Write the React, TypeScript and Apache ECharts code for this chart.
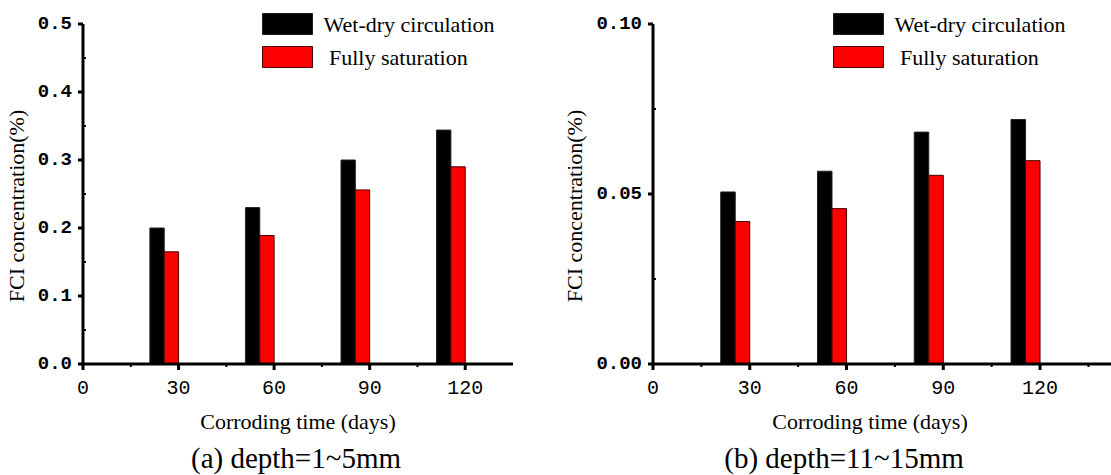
import React, { useEffect, useRef } from "react";
import * as echarts from "echarts";

// Corroding time (days) at which samples were taken
const days = [30, 60, 90, 120];
const xTicks = [0, 30, 60, 90, 120];

// FCI concentration (%) at depth 1~5mm
const wetDryShallow = [0.2, 0.23, 0.3, 0.344];
const saturatedShallow = [0.165, 0.189, 0.256, 0.29];
const yTicksShallow = [0, 0.1, 0.2, 0.3, 0.4, 0.5];

// FCI concentration (%) at depth 11~15mm
const wetDryDeep = [0.0506, 0.0567, 0.0682, 0.0719];
const saturatedDeep = [0.0419, 0.0457, 0.0555, 0.0598];
const yTicksDeep = [0, 0.05, 0.1];

const seriesNames = ["Wet-dry circulation", "Fully saturation"];
const captions = ["(a) depth=1~5mm", "(b) depth=11~15mm"];
const xName = "Corroding time (days)";
const yName = "FCI concentration(%)";

const BAR_W = 4.5; // bar width in days
const SERIF = "'Liberation Serif', 'Times New Roman', serif";
const MONO = "'Liberation Mono', 'DejaVu Sans Mono', monospace";

const styles = [
  { fill: "#000000", stroke: "#222222" },
  { fill: "#ff0000", stroke: "#4a0000" },
];

const panels = [
  { xMax: 135, yTicks: yTicksShallow, digits: 1, nameGap: 56 },
  { xMax: 142, yTicks: yTicksDeep, digits: 2, nameGap: 68 },
];

function barSeries(name: string, idx: number, values: number[], axisIndex: number) {
  const data = days.map((d, i) => [d, values[i]]);
  const shift = idx === 0 ? 2 * BAR_W : BAR_W;
  return {
    type: "custom",
    name,
    xAxisIndex: axisIndex,
    yAxisIndex: axisIndex,
    encode: { x: 0, y: 1 },
    itemStyle: { color: styles[idx].fill },
    data,
    renderItem: (_params: any, api: any) => {
      const x = api.value(0);
      const y = api.value(1);
      const p1 = api.coord([x - shift, y]);
      const p2 = api.coord([x - shift + BAR_W, 0]);
      return {
        type: "rect",
        shape: { x: p1[0], y: p1[1], width: p2[0] - p1[0], height: p2[1] - p1[1] },
        style: { fill: styles[idx].fill, stroke: styles[idx].stroke, lineWidth: 1 },
      };
    },
  };
}

function xAxisCfg(gridIndex: number, max: number) {
  return {
    type: "value",
    gridIndex,
    min: 0,
    max,
    interval: 30,
    name: xName,
    nameLocation: "middle",
    nameGap: 46,
    nameTextStyle: {
      fontFamily: SERIF,
      fontSize: 22,
      color: "#000",
      padding: gridIndex === 1 ? [0, 24, 0, 0] : [0, 0, 0, 0],
    },
    axisLine: { show: false },
    axisTick: { show: false },
    axisLabel: {
      fontFamily: MONO,
      fontSize: 20,
      color: "#000",
      margin: 14,
      showMaxLabel: false,
    },
    splitLine: { show: false },
  };
}

function yAxisCfg(gridIndex: number, ticks: number[], digits: number, nameGap: number) {
  return {
    type: "value",
    gridIndex,
    min: 0,
    max: ticks[ticks.length - 1],
    interval: ticks[1] - ticks[0],
    name: yName,
    nameLocation: "middle",
    nameGap,
    nameTextStyle: { fontFamily: SERIF, fontSize: 22, color: "#000", padding: [0, 0, 0, -24] },
    axisLine: { show: false },
    axisTick: { show: false },
    axisLabel: {
      fontFamily: MONO,
      fontWeight: "bold",
      fontSize: 19,
      color: "#000",
      margin: 11,
      padding: [10, 0, 0, 0],
      formatter: (v: number) => v.toFixed(digits),
    },
    splitLine: { show: false },
  };
}

function legendCfg(left: number) {
  return {
    left,
    top: 13,
    padding: 0,
    orient: "vertical",
    icon: "rect",
    itemWidth: 50,
    itemHeight: 21,
    itemGap: 11,
    textStyle: { fontFamily: SERIF, fontSize: 22, color: "#000", padding: [0, 0, 0, 6] },
    formatter: (n: string) => (n === seriesNames[1] ? " " + n : n),
    data: seriesNames.map((name, i) => ({
      name,
      itemStyle: { color: styles[i].fill, borderColor: styles[i].stroke, borderWidth: 1 },
    })),
  };
}

function line(x1: number, y1: number, x2: number, y2: number, w: number) {
  return {
    type: "line",
    z: 10,
    silent: true,
    shape: { x1, y1, x2, y2 },
    style: { stroke: "#000", lineWidth: w },
  };
}

export default function App() {
  const ref = useRef<HTMLDivElement>(null);

  useEffect(() => {
    if (!ref.current) return;
    const chart = echarts.init(ref.current, undefined, { renderer: "svg" });
    chart.setOption({
      animation: false,
      backgroundColor: "#ffffff",
      title: captions.map((text, i) => ({
        text,
        left: i === 0 ? 296 : 844,
        top: 443,
        padding: 0,
        textAlign: "center",
        textStyle: { fontFamily: SERIF, fontSize: 29, fontWeight: "normal", color: "#000" },
      })),
      legend: [legendCfg(262), legendCfg(833)],
      grid: [
        { left: 83, top: 24, width: 430, height: 340 },
        { left: 653, top: 24, width: 458, height: 340 },
      ],
      xAxis: panels.map((p, i) => xAxisCfg(i, p.xMax)),
      yAxis: panels.map((p, i) => yAxisCfg(i, p.yTicks, p.digits, p.nameGap)),
      series: [
        barSeries(seriesNames[0], 0, wetDryShallow, 0),
        barSeries(seriesNames[1], 1, saturatedShallow, 0),
        barSeries(seriesNames[0], 0, wetDryDeep, 1),
        barSeries(seriesNames[1], 1, saturatedDeep, 1),
      ],
    });

    // Axis lines and tick marks, placed through each grid's own scales
    const elements: any[] = [];
    panels.forEach((p, i) => {
      const finder = { xAxisIndex: i, yAxisIndex: i };
      const px = (v: number[]) => chart.convertToPixel(finder, v) as number[];
      const yMax = p.yTicks[p.yTicks.length - 1];
      const o = px([0, 0]);
      const xe = px([p.xMax, 0]);
      const yt = px([0, yMax]);
      if (!o || !xe || !yt) return;
      elements.push(line(o[0] - 1.5, o[1], xe[0], o[1], 3));
      elements.push(line(o[0], o[1] + 1.5, o[0], yt[1], 3));
      xTicks.forEach((t, k) => {
        const a = px([t, 0]);
        elements.push(line(a[0], o[1], a[0], o[1] + 6, 3));
        const next = k < xTicks.length - 1 ? xTicks[k + 1] : t + (t - xTicks[k - 1]);
        const mid = (t + next) / 2;
        if (mid < p.xMax) {
          const m = px([mid, 0]);
          elements.push(line(m[0], o[1], m[0], o[1] + 3, 2));
        }
      });
      p.yTicks.forEach((t, k) => {
        const a = px([0, t]);
        elements.push(line(o[0], a[1], o[0] - 5, a[1], 3));
        if (k < p.yTicks.length - 1) {
          const m = px([0, (t + p.yTicks[k + 1]) / 2]);
          elements.push(line(o[0], m[1], o[0] + 3, m[1], 2));
        }
      });
    });
    chart.setOption({ graphic: { elements } });

    return () => chart.dispose();
  }, []);

  return (
    <div
      ref={ref}
      style={{ position: "absolute", left: 0, top: 0, width: 1111, height: 475, background: "#fff" }}
    />
  );
}
